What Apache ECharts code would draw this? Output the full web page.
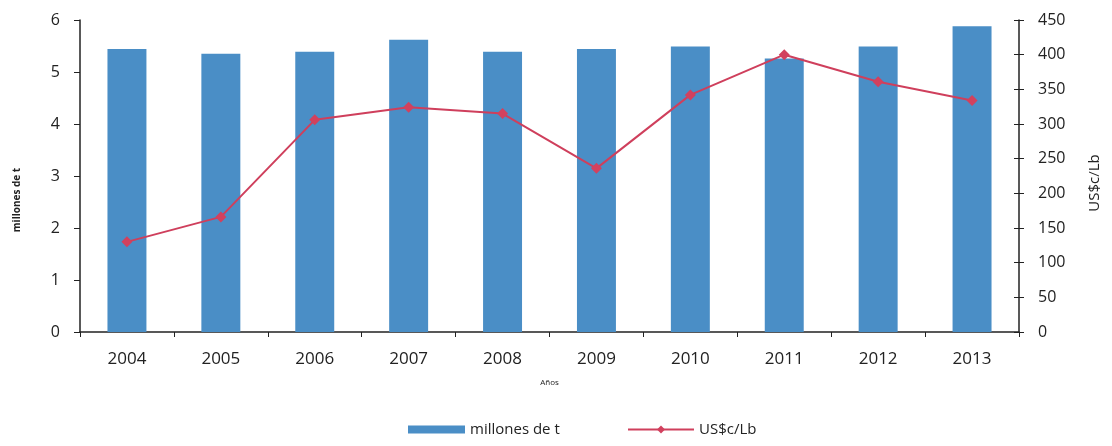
<!DOCTYPE html>
<html>
<head>
<meta charset="utf-8">
<script src="https://cdn.jsdelivr.net/npm/echarts@6/dist/echarts.min.js"></script>
<style>
html,body{margin:0;padding:0;background:#fff;}
#c{width:1112px;height:446px;}
</style>
</head>
<body>
<div id="c"></div>
<script>
const years = ['2004','2005','2006','2007','2008','2009','2010','2011','2012','2013'];
const production = [5.44, 5.35, 5.39, 5.62, 5.39, 5.44, 5.49, 5.26, 5.49, 5.88];
const price = [130, 166, 306, 324, 315, 236, 342, 400, 361, 334];
const leftTicks = {min: 0, max: 6, interval: 1};
const rightTicks = {min: 0, max: 450, interval: 50};

const FONT = 'Open Sans';
const TXT = '#222';
const chart = echarts.init(document.getElementById('c'), null, {renderer: 'canvas'});
chart.setOption({
  animation: false,
  backgroundColor: '#fff',
  textStyle: {fontFamily: FONT, color: TXT},
  grid: {left: 80, right: 93, top: 20, bottom: 114},
  legend: [
    {data: [{name: 'millones de t', icon: 'rect'}], left: 403, top: 417, itemWidth: 57, itemHeight: 8, itemGap: 0,
     textStyle: {fontFamily: FONT, fontSize: 15, color: TXT}},
    {data: ['US$c/Lb'], left: 622, top: 417, itemWidth: 66, itemHeight: 10, itemGap: 0,
     textStyle: {fontFamily: FONT, fontSize: 15, color: TXT}}
  ],
  xAxis: {
    type: 'category',
    data: years,
    name: 'Años',
    nameLocation: 'middle',
    nameGap: 47,
    nameTextStyle: {fontFamily: FONT, fontSize: 8, color: TXT},
    axisLine: {lineStyle: {color: '#222', width: 1.5}},
    axisTick: {show: true, length: 5, lineStyle: {color: '#222'}},
    axisLabel: {fontFamily: FONT, fontSize: 17, color: TXT, margin: 19}
  },
  yAxis: [
    {
      type: 'value', position: 'left',
      min: leftTicks.min, max: leftTicks.max, interval: leftTicks.interval,
      name: 'millones de t', nameLocation: 'middle', nameGap: 58,
      nameTextStyle: {fontFamily: FONT, fontSize: 10, fontWeight: 'bold', color: TXT, padding: [0, 0, 0, -48]},
      axisLine: {show: true, lineStyle: {color: '#222', width: 1.5}},
      axisTick: {show: true, length: 6, lineStyle: {color: '#222'}},
      axisLabel: {fontFamily: FONT, fontSize: 16, color: TXT, margin: 20},
      splitLine: {show: false}
    },
    {
      type: 'value', position: 'right',
      min: rightTicks.min, max: rightTicks.max, interval: rightTicks.interval,
      name: 'US$c/Lb', nameLocation: 'middle', nameGap: 68,
      nameTextStyle: {fontFamily: FONT, fontSize: 15, color: TXT, padding: [0, 0, 0, -14]},
      axisLine: {show: true, lineStyle: {color: '#222', width: 1.5}},
      axisTick: {show: true, length: 5, lineStyle: {color: '#222'}},
      axisLabel: {fontFamily: FONT, fontSize: 16, color: TXT, margin: 19},
      splitLine: {show: false}
    },
    {
      type: 'value', position: 'right',
      min: rightTicks.min, max: rightTicks.max, interval: rightTicks.interval,
      axisLine: {show: false},
      axisTick: {show: true, inside: true, length: 5, lineStyle: {color: '#222'}},
      axisLabel: {show: false},
      splitLine: {show: false}
    }
  ],
  series: [
    {
      name: 'millones de t', type: 'bar', yAxisIndex: 0,
      data: production, barWidth: '41.5%',
      itemStyle: {color: '#4A8EC6'}
    },
    {
      name: 'US$c/Lb', type: 'line', yAxisIndex: 1,
      data: price, symbol: 'diamond', symbolSize: 11,
      lineStyle: {color: '#CF3F5C', width: 2},
      itemStyle: {color: '#D2415E'}
    }
  ]
});
</script>
</body>
</html>
